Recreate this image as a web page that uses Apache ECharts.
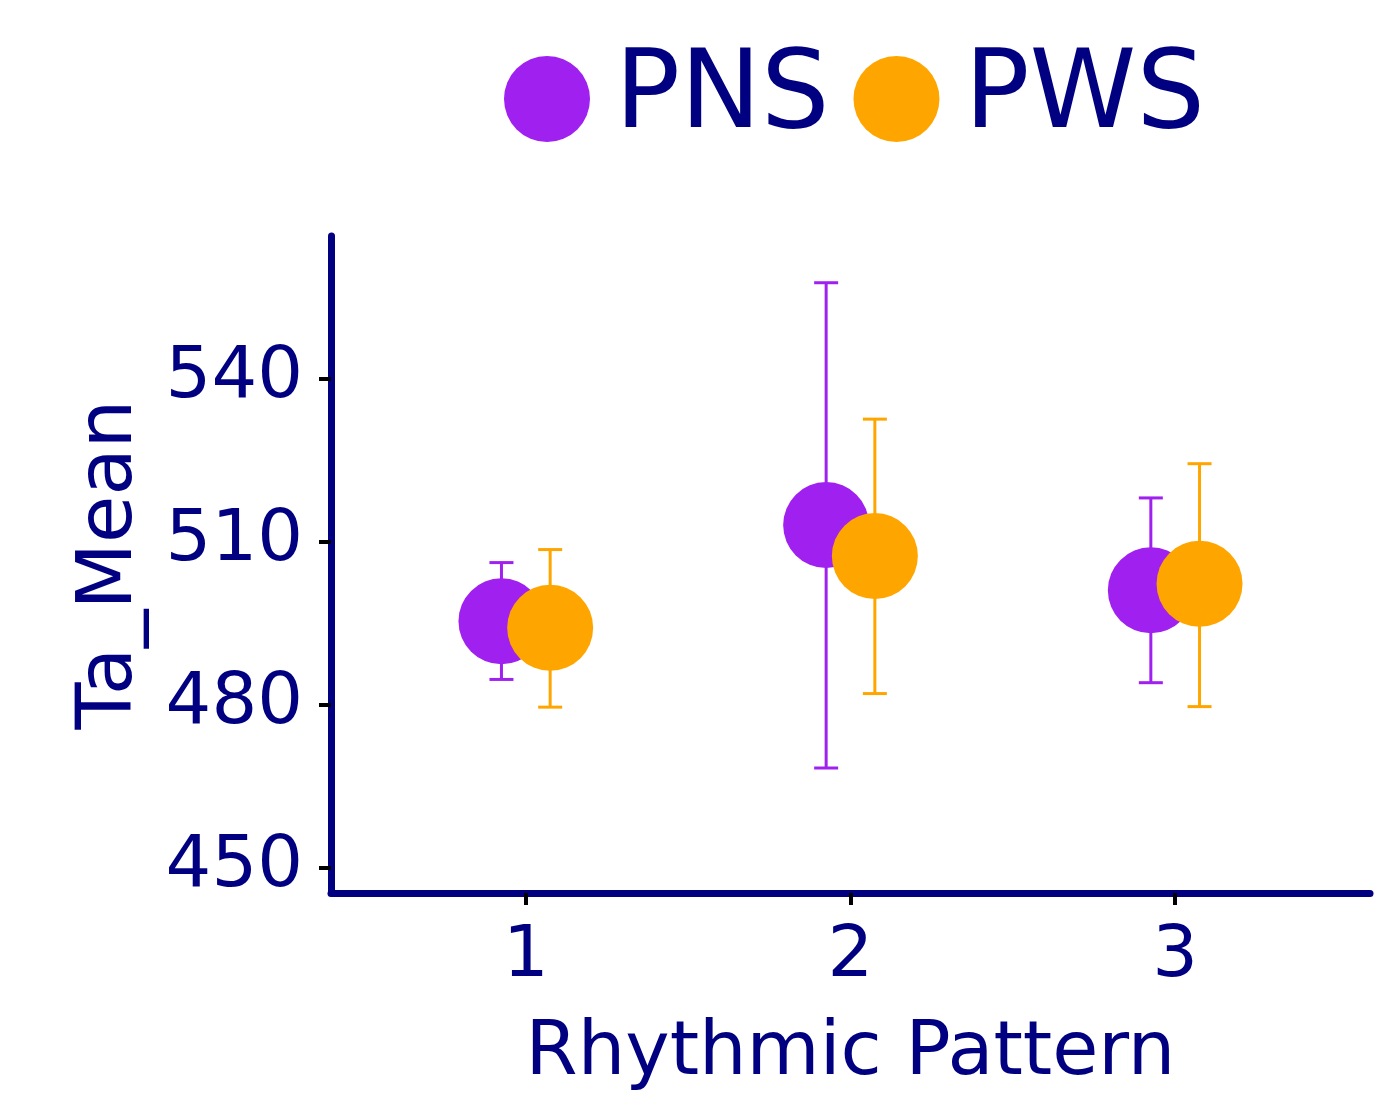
<!DOCTYPE html>
<html>
<head>
<meta charset="utf-8">
<script src="https://cdn.jsdelivr.net/npm/echarts@6/dist/echarts.min.js"></script>
<style>
  html, body { margin: 0; padding: 0; background: #ffffff; }
  #chart { width: 1394px; height: 1097px; }
</style>
</head>
<body>
<div id="chart"></div>
<script>
// ---- Data ----
var categories = [1, 2, 3];
var groups = ['PNS', 'PWS'];
var pnsMean  = [495.3, 513.0, 501.0];
var pnsLow   = [484.6, 468.3, 484.0];
var pnsHigh  = [506.1, 557.6, 518.0];
var pwsMean  = [494.1, 507.3, 502.2];
var pwsLow   = [479.5, 482.0, 479.6];
var pwsHigh  = [508.5, 532.5, 524.3];
var yTicks = [450, 480, 510, 540];
var xTicks = [1, 2, 3];

// ---- Styling ----
var NAVY = '#000080';
var COLORS = { PNS: '#A020F0', PWS: '#FFA500' };
var FONT = 'DejaVu Sans';
var DODGE = 0.075;

function meanData(means, off) {
  return categories.map(function (c, i) { return [c + off, means[i]]; });
}
function errData(lows, highs, off) {
  return categories.map(function (c, i) { return [c + off, lows[i], highs[i]]; });
}
function errSeries(name, lows, highs, off, color) {
  return {
    type: 'custom',
    name: name,
    z: 2,
    silent: true,
    data: errData(lows, highs, off),
    encode: { x: 0, y: [1, 2] },
    renderItem: function (params, api) {
      var x = api.value(0);
      var lo = api.coord([x, api.value(1)]);
      var hi = api.coord([x, api.value(2)]);
      var cap = 12;
      var style = { stroke: color, lineWidth: 3, fill: null };
      return {
        type: 'group',
        children: [
          { type: 'line', shape: { x1: lo[0], y1: lo[1], x2: hi[0], y2: hi[1] }, style: style },
          { type: 'line', shape: { x1: lo[0] - cap, y1: lo[1], x2: lo[0] + cap, y2: lo[1] }, style: style },
          { type: 'line', shape: { x1: hi[0] - cap, y1: hi[1], x2: hi[0] + cap, y2: hi[1] }, style: style }
        ]
      };
    }
  };
}

var chart = echarts.init(document.getElementById('chart'), null, { renderer: 'canvas' });
chart.setOption({
  backgroundColor: '#ffffff',
  animation: false,
  grid: { left: 331, right: 24, top: 236, bottom: 201, containLabel: false },
  legend: {
    data: groups,
    left: 499,
    top: 40,
    icon: 'circle',
    itemWidth: 86,
    itemHeight: 86,
    itemGap: 24,
    textStyle: { color: NAVY, fontSize: 108, fontFamily: FONT, padding: [0, 0, 0, 20] }
  },
  xAxis: {
    type: 'value',
    min: 0.4,
    max: 3.6,
    name: 'Rhythmic Pattern',
    nameLocation: 'middle',
    nameGap: 124,
    nameTextStyle: { color: NAVY, fontSize: 75, fontFamily: FONT },
    axisLine: { show: true, lineStyle: { color: NAVY, width: 7 } },
    axisTick: { show: true, customValues: xTicks, length: 12, lineStyle: { color: '#000000', width: 4 } },
    axisLabel: {
      customValues: xTicks,
      margin: 28,
      color: NAVY, fontSize: 72, fontFamily: FONT,
      formatter: function (v) { return String(v); }
    },
    splitLine: { show: false }
  },
  yAxis: {
    type: 'value',
    min: 445.3,
    max: 566.2,
    name: 'Ta_Mean',
    nameLocation: 'middle',
    nameGap: 182,
    nameTextStyle: { color: NAVY, fontSize: 77, fontFamily: FONT },
    axisLine: { show: true, lineStyle: { color: NAVY, width: 7 } },
    axisTick: { show: true, customValues: yTicks, length: 12, lineStyle: { color: '#000000', width: 4 } },
    axisLabel: {
      customValues: yTicks,
      margin: 28,
      color: NAVY, fontSize: 72, fontFamily: FONT,
      formatter: function (v) { return String(v); }
    },
    splitLine: { show: false }
  },
  series: [
    errSeries('PNS err', pnsLow, pnsHigh, -DODGE, COLORS.PNS),
    {
      type: 'scatter', name: 'PNS', z: 3,
      symbol: 'circle', symbolSize: 86,
      itemStyle: { color: COLORS.PNS, opacity: 1 },
      data: meanData(pnsMean, -DODGE)
    },
    errSeries('PWS err', pwsLow, pwsHigh, DODGE, COLORS.PWS),
    {
      type: 'scatter', name: 'PWS', z: 4,
      symbol: 'circle', symbolSize: 86,
      itemStyle: { color: COLORS.PWS, opacity: 1 },
      data: meanData(pwsMean, DODGE)
    }
  ]
});
</script>
</body>
</html>
